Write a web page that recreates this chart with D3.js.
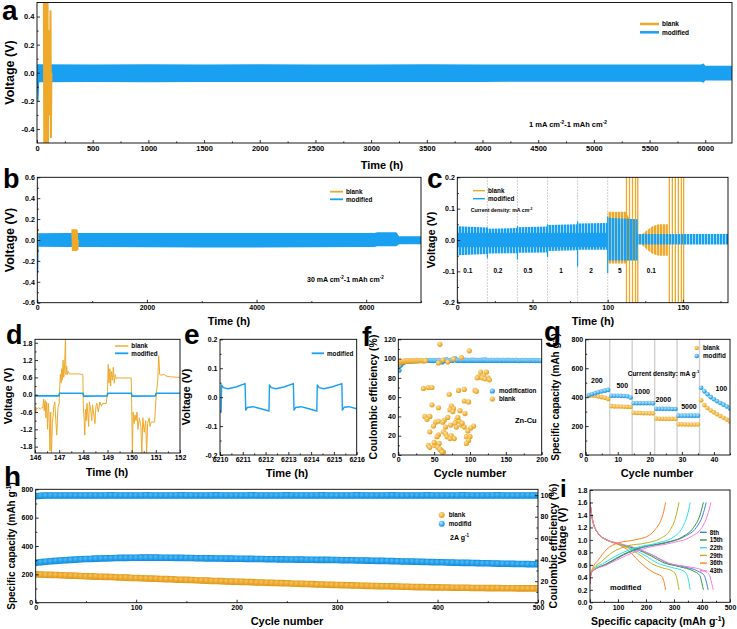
<!DOCTYPE html>
<html>
<head>
<meta charset="utf-8">
<script src="https://cdn.jsdelivr.net/npm/d3@7"></script>
<style>
  body { margin: 0; background: #fff; }
  text { font-family: 'Liberation Sans', Arial, sans-serif; font-weight: bold; }
</style>
</head>
<body>
<script>
// ---------- data ----------
// a : symmetric cycling 1 mA cm-2 (envelope of the dense band)
const aModT  = [0, 30, 500, 1000, 1500, 2000, 2500, 3000, 3500, 4000, 4500, 5000, 5500, 5960, 5985, 6000, 6240]
const aModHi = [0.06, 0.06, 0.058, 0.06, 0.059, 0.06, 0.058, 0.059, 0.06, 0.058, 0.059, 0.058, 0.058, 0.058, 0.066, 0.05, 0.05]
const aModLo = [-0.07, -0.068, -0.066, -0.068, -0.066, -0.065, -0.066, -0.065, -0.066, -0.065, -0.064, -0.064, -0.064, -0.064, -0.072, -0.056, -0.056]
const aModSpT = [2, 9, 16]
const aModSpV = [0, -0.2, 0]
const aBlankT = [58, 62, 66, 70, 74, 78, 82, 86, 90, 94, 98, 102, 104, 109, 113, 117, 121, 125, 129, 133]
const aBlankV = [0.6, -0.6, 0.6, -0.6, 0.6, -0.6, 0.6, -0.6, 0.6, -0.6, 0.6, -0.6, 0, 0.3, -0.3, 0.44, -0.46, 0.44, -0.46, 0]

// b : 30 mA cm-2
const bModT  = [0, 20, 500, 1000, 2000, 3000, 4000, 5000, 6000, 6150, 6200, 6550, 6600, 7000]
const bModHi = [0.065, 0.065, 0.066, 0.067, 0.067, 0.068, 0.068, 0.067, 0.067, 0.067, 0.075, 0.075, 0.035, 0.035]
const bModLo = [-0.065, -0.065, -0.066, -0.068, -0.07, -0.072, -0.072, -0.07, -0.068, -0.068, -0.06, -0.06, -0.04, -0.04]
const bModSpT = [0, 8, 15]
const bModSpV = [0, -0.3, 0]
const bBlank1T = [0, 4, 8, 12]
const bBlank1V = [0.15, -0.12, 0.1, 0]
const bBlank2T = [630, 640, 650, 660, 670, 680, 690, 700, 710, 720, 730, 740, 750]
const bBlank2V = [0.1, -0.1, 0.1, -0.1, 0.1, -0.1, 0.1, -0.1, 0.1, -0.1, 0.09, -0.09, 0]

// c : rate test
const cModT  = [0, 19.9, 20, 39.9, 40, 59.9, 60, 79.9, 80, 99.9, 100, 119.9, 120, 180]
const cModHi = [0.044, 0.04, 0.036, 0.038, 0.041, 0.043, 0.048, 0.05, 0.053, 0.054, 0.071, 0.066, 0.019, 0.019]
const cModLo = [-0.049, -0.045, -0.043, -0.042, -0.041, -0.04, -0.035, -0.033, -0.031, -0.031, -0.065, -0.065, -0.014, -0.014]
const cModSpT  = [20, 40, 60, 80, 100]
const cModSpHi = [0.04, 0.045, 0.05, 0.06, 0.075]
const cModSpLo = [-0.058, -0.062, -0.055, -0.085, -0.105]
const cBlankT  = [0, 99.9, 100, 112, 120, 122, 126, 130, 134, 140]
const cBlankHi = [0.025, 0.025, 0.09, 0.09, 0.015, 0.015, 0.03, 0.045, 0.05, 0.05]
const cBlankLo = [-0.025, -0.025, -0.075, -0.075, -0.012, -0.012, -0.03, -0.045, -0.05, -0.05]
const cBigSpT = [112.5, 114.5, 116.5, 118.5, 120, 141, 143, 145, 147, 149, 150.5]
const cStageT = [20, 40, 60, 80, 100]
const cRateLbl = ['0.1', '0.2', '0.5', '1', '2', '5', '0.1']
const cRateAt  = [7, 27, 47, 69, 89, 108, 129]

// d : blank vs modified, 146-152 h
const dBlankT = [146.00, 146.03, 146.06, 146.10, 146.15, 146.22, 146.28, 146.32, 146.36, 146.38, 146.42, 146.45, 146.48, 146.52, 146.55, 146.58, 146.62, 146.65, 146.68, 146.72, 146.78, 146.82, 146.86, 146.90, 146.95, 147.00, 147.02, 147.05, 147.08, 147.10, 147.13, 147.16, 147.19, 147.22, 147.26, 147.28, 147.31, 147.34, 147.38, 147.42, 147.60, 147.80, 147.98, 148.00, 148.03, 148.06, 148.09, 148.12, 148.15, 148.18, 148.22, 148.25, 148.30, 148.35, 148.38, 148.42, 148.48, 148.52, 148.56, 148.62, 148.68, 148.75, 148.80, 148.95, 149.00, 149.03, 149.06, 149.10, 149.13, 149.16, 149.20, 149.24, 149.28, 149.32, 149.36, 149.40, 149.98, 150.00, 150.03, 150.06, 150.10, 150.14, 150.18, 150.22, 150.26, 150.32, 150.38, 150.42, 150.46, 150.52, 150.58, 150.62, 150.66, 150.72, 150.76, 150.80, 150.95, 151.00, 151.04, 151.08, 151.12, 151.16, 151.22, 151.35, 151.40, 151.60, 152.00]
const dBlankV = [-0.40, -0.62, -0.45, -0.48, -0.45, -0.50, -0.45, -0.46, -0.15, -0.55, -0.20, -0.80, -0.25, -1.20, -0.30, -0.65, -1.95, -0.60, -2.05, -1.00, -0.40, -0.25, -0.90, -1.40, -0.45, -0.30, 0.20, 0.70, 0.40, 0.90, 0.50, 1.20, 0.60, 0.90, 1.95, 0.70, 1.00, 0.70, 0.80, 0.72, 0.72, 0.72, 0.70, -0.40, -0.80, -1.40, -0.50, -0.90, -0.30, -0.60, -1.10, -0.25, -0.50, -0.90, -0.35, -0.60, -1.00, -0.40, -0.30, -0.60, -0.25, -0.40, -0.30, -0.30, 0.10, 1.05, 0.40, 0.90, 0.30, 0.80, 0.50, 0.95, 0.40, 0.70, 0.55, 0.58, 0.58, -0.30, -2.05, -0.60, -1.00, -0.70, -0.90, -0.60, -1.20, -0.80, -1.10, -2.05, -0.80, -1.30, -0.90, -2.05, -1.00, -0.80, -1.10, -0.95, -0.95, -0.20, 0.20, 0.50, 1.35, 0.70, 0.68, 0.70, 0.65, 0.62, 0.60]
const dModT = [146, 146.99, 147.01, 147.99, 148.01, 148.99, 149.01, 149.99, 150.01, 150.99, 151.01, 152]
const dModV = [-0.04, -0.04, 0.05, 0.05, -0.05, -0.04, 0.05, 0.05, -0.05, -0.04, 0.05, 0.05]

// e : modified, 6210-6216 h
const eModT = [6210.00, 6210.05, 6210.07, 6210.15, 6210.35, 6210.7, 6211.1, 6211.13, 6211.2, 6211.45, 6211.8, 6212.15, 6212.17, 6212.25, 6212.45, 6212.8, 6213.22, 6213.25, 6213.32, 6213.55, 6213.9, 6214.25, 6214.27, 6214.35, 6214.55, 6214.9, 6215.35, 6215.37, 6215.45, 6215.65, 6216]
const eModV = [-0.045, -0.048, 0.042, 0.033, 0.029, 0.035, 0.047, -0.045, -0.036, -0.033, -0.04, -0.048, 0.042, 0.033, 0.029, 0.035, 0.047, -0.045, -0.036, -0.033, -0.04, -0.048, 0.042, 0.033, 0.029, 0.035, 0.047, -0.045, -0.035, -0.033, -0.04]

// f : Zn-Cu coulombic efficiency
const fModV = [88, 93, 95.2, 96.3, 96.8, 97.2, 97.4, 97.5, 97.6, 97.7,
  97.8, 97.8, 97.9, 97.9, 98, 98, 98, 97.9, 98, 98.1,
  98, 98, 98.1, 98, 97.9, 98, 98, 98.1, 98.2, 98,
  96.5, 98, 98.5, 99, 98.2, 98, 98.1, 98, 99.5, 100,
  98.4, 98, 98.1, 98.2, 98, 98.1, 98.3, 98.2, 98.1, 98,
  98.2, 98.3, 98.1, 98.2, 98.1, 98, 98.2, 98.1, 98.3, 98.2,
  98.6, 98.2, 98.1, 98, 98.2, 98.1, 98.2, 98, 98.1, 98.2,
  98.1, 98, 98.2, 98.1, 98, 98.1, 98.2, 98.1, 98, 98.1,
  98, 98.1, 98.2, 98, 97.9, 98, 98.1, 98, 98.1, 98,
  98, 97.9, 98, 98.1, 98, 97.9, 98, 98, 97.9, 98]
const fModC = fModV.map((_, i) => 1 + 2 * i)   // every second cycle
const fBlankEarly = [94, 95.5, 96, 96.5, 96.8, 97, 97.2, 97, 97.3, 97.5, 97.2, 97.6, 97.4, 97.8, 97.5, 97.7, 97.9, 97.6, 98, 97.8, 97.7, 98, 97.9, 97.6, 98.1, 97.8, 97.9, 98, 97.7, 98, 97.9, 98.1, 97.8, 98, 97.9, 97.7, 98, 97.8]
const fScatC = [58, 99, 88, 115, 123, 119, 112, 125, 117, 121, 127, 110, 107, 109, 35, 42, 47, 71, 84, 92, 92, 98, 47, 56, 74, 77, 72, 86, 93, 37, 44, 40, 52, 64, 56, 69, 81, 85, 79, 88, 73, 105, 101, 49, 66, 81, 92, 44, 56, 54, 63, 66, 68, 74, 78, 72, 95, 100, 98, 95, 42, 44, 51, 57, 55, 60, 63, 58, 50, 61, 83, 76, 62, 89, 97, 56, 62, 69, 77]
const fScatV = [114.8, 108, 101, 86, 86, 82, 81, 80, 80, 79, 78, 80, 67, 66, 69, 70, 70, 63, 67, 68, 56, 55, 52, 49, 51, 48, 47, 46, 43, 40, 40, 37, 34, 36, 35, 39, 36, 35, 33, 31, 31, 30, 28, 30, 29, 29, 29, 24, 21, 19, 24, 22, 19, 20, 17, 17, 19, 19, 15, 12, 10, 8, 10, 12, 8, 5, 3, 6, 13, 3, 39, 45, 34, 33, 25, 95.5, 98.5, 96.5, 99.5]

// g : rate capability
const gBlank = [408, 412, 410, 405, 400, 395, 388, 338, 336, 335, 335, 334, 333, 332, 292, 290, 290, 289, 289, 288, 288, 252, 251, 251, 250, 250, 250, 250, 212, 212, 211, 211, 211, 211, 211, 378, 345, 325, 308, 295, 282, 270, 258, 245, 232]
const gMod   = [415, 422, 428, 435, 440, 445, 450, 410, 410, 410, 409, 408, 406, 398, 358, 358, 358, 358, 358, 358, 357, 320, 320, 319, 319, 319, 318, 318, 272, 272, 272, 272, 272, 272, 272, 465, 440, 420, 400, 385, 372, 360, 348, 335, 322]
const gSep = [7.5, 14.5, 21.5, 28.5, 35.5]
const gRateLbl = ['200', '500', '1000', '2000', '5000', '100']
const gRateX   = [3.5, 11.4, 17.6, 24.2, 32.2, 42.3]
const gRateYpx = [382.5, 387.5, 394, 402, 409, 391]

// h : long cycling at 2 A g-1 (every 5th cycle)
const hCyc = d3.range(0, 501, 5)
const hModCap = [282, 286, 289, 292, 295, 298, 300, 302, 304, 306, 308, 309, 311, 312, 313, 314, 315, 316, 316, 317,
  317, 318, 318, 318, 318, 317, 317, 317, 316, 316, 315, 315, 314, 314, 313, 313, 312, 312, 311, 311,
  310, 310, 309, 309, 308, 308, 307, 307, 306, 306, 305, 305, 304, 304, 303, 303, 302, 302, 302, 301,
  301, 300, 300, 299, 298, 298, 297, 296, 295, 295, 294, 293, 292, 291, 291, 290, 289, 288, 287, 286,
  285, 285, 284, 283, 282, 281, 281, 280, 279, 278, 278, 277, 276, 275, 275, 274, 273, 273, 272, 271, 271]
const hBlankCap = [200, 199, 197, 196, 195, 194, 192, 191, 190, 188, 187, 186, 184, 183, 182, 181, 179, 178, 177, 175,
  174, 173, 171, 170, 169, 167, 166, 165, 163, 162, 161, 160, 158, 157, 156, 154, 153, 152, 150, 149,
  148, 147, 146, 145, 143, 142, 141, 140, 139, 138, 137, 135, 134, 133, 132, 131, 129, 128, 127, 126,
  125, 124, 123, 122, 121, 120, 119, 118, 117, 116, 116, 115, 114, 113, 112, 111, 110, 110, 109, 108,
  108, 107, 107, 106, 106, 105, 105, 104, 104, 104, 103, 103, 103, 102, 102, 102, 101, 101, 101, 101, 101]
const hModCe = [99.0, 99.5, 99.7, 99.7, 99.8, 99.7, 99.8, 99.8, 99.7, 99.8, 99.8, 99.8, 99.7, 99.8, 99.8, 99.9, 99.8, 99.8, 99.7, 99.8,
  99.8, 99.8, 99.9, 99.8, 99.8, 99.7, 99.8, 99.8, 99.8, 99.9, 99.8, 99.8, 99.7, 99.8, 99.8, 99.8, 99.9, 99.8, 99.8, 99.7,
  99.8, 99.8, 99.8, 99.9, 99.8, 99.8, 99.7, 99.8, 99.8, 99.8, 99.9, 99.8, 99.8, 99.7, 99.8, 99.8, 99.8, 99.9, 99.8, 99.8,
  99.7, 99.8, 99.8, 99.8, 99.9, 99.8, 99.8, 99.7, 99.8, 99.8, 99.8, 99.9, 99.8, 99.8, 99.7, 99.8, 99.8, 99.8, 99.9, 99.8,
  99.8, 99.7, 99.8, 99.8, 99.8, 99.9, 99.8, 99.8, 99.7, 99.8, 99.8, 99.8, 99.9, 99.8, 99.8, 99.7, 99.8, 99.8, 99.8, 99.8, 99.8]

// i : charge / discharge profiles (capacity, voltage)
const iCycles = ['8th', '15th', '22th', '29th', '36th', '43th']
const iDis = [
  [[0, 1.6], [10, 1.3], [30, 1.1], [60, 1.0], [100, 0.94], [165, 0.86], [230, 0.74], [270, 0.64], [335, 0.57], [385, 0.5], [408, 0.43], [417, 0.3], [422, 0.2]],
  [[0, 1.6], [10, 1.3], [30, 1.1], [60, 1.0], [100, 0.94], [160, 0.86], [220, 0.74], [260, 0.64], [320, 0.57], [370, 0.5], [392, 0.43], [400, 0.3], [405, 0.2]],
  [[0, 1.6], [10, 1.3], [30, 1.1], [60, 1.0], [100, 0.94], [150, 0.86], [200, 0.74], [240, 0.63], [290, 0.56], [335, 0.5], [348, 0.42], [354, 0.3], [358, 0.2]],
  [[0, 1.6], [10, 1.3], [30, 1.1], [60, 1.0], [100, 0.93], [150, 0.84], [190, 0.72], [220, 0.62], [260, 0.55], [295, 0.5], [308, 0.42], [314, 0.3], [318, 0.2]],
  [[0, 1.6], [10, 1.3], [30, 1.1], [60, 1.0], [100, 0.93], [140, 0.82], [170, 0.68], [200, 0.56], [230, 0.47], [255, 0.42], [263, 0.35], [268, 0.25], [270, 0.2]],
  [[0, 1.6], [10, 1.3], [30, 1.1], [60, 1.0], [100, 0.95], [170, 0.86], [240, 0.72], [280, 0.63], [350, 0.57], [400, 0.52], [425, 0.45], [435, 0.3], [440, 0.2]]
]
const iChg = [
  [[0, 0.3], [3, 0.45], [10, 0.5], [60, 0.61], [120, 0.76], [190, 0.88], [270, 0.95], [340, 1.06], [380, 1.2], [403, 1.4], [415, 1.6]],
  [[0, 0.3], [3, 0.45], [10, 0.5], [60, 0.62], [120, 0.77], [180, 0.88], [260, 0.95], [330, 1.05], [370, 1.2], [393, 1.4], [405, 1.6]],
  [[0, 0.3], [3, 0.45], [10, 0.52], [50, 0.63], [100, 0.76], [160, 0.87], [240, 0.95], [300, 1.05], [330, 1.2], [348, 1.4], [358, 1.6]],
  [[0, 0.3], [3, 0.45], [10, 0.52], [40, 0.65], [80, 0.8], [130, 0.9], [200, 0.95], [250, 1.02], [285, 1.15], [305, 1.35], [318, 1.6]],
  [[0, 0.3], [3, 0.45], [10, 0.55], [30, 0.68], [60, 0.85], [100, 0.95], [160, 1.0], [210, 1.07], [235, 1.18], [252, 1.3], [263, 1.45], [270, 1.6]],
  [[0, 0.3], [3, 0.45], [10, 0.5], [60, 0.6], [130, 0.75], [200, 0.87], [290, 0.95], [360, 1.05], [400, 1.2], [420, 1.4], [432, 1.6]]
]
const iColors = ['#3f7fe0', '#2f9a3c', '#2ee0e8', '#b9b21e', '#ff7f1f', '#ff7ad6']

// ---------- setup ----------
const OR = '#EEA82A'
const BL = '#19A0F0'
const svg = d3.select('body').append('svg').attr('width', 737).attr('height', 629)
const defs = svg.append('defs')
let clipN = 0

function grad(id, c0, c1) {
  const g = defs.append('radialGradient').attr('id', id).attr('cx', '38%').attr('cy', '35%').attr('r', '65%')
  g.append('stop').attr('offset', '0%').attr('stop-color', c0)
  g.append('stop').attr('offset', '100%').attr('stop-color', c1)
}
grad('gOr', '#FFE2A0', '#E59C18')
grad('gBl', '#B8E6FF', '#0E90E2')
grad('gOr2', '#F6C25A', '#E39B1C')
grad('gBl2', '#4DBBF7', '#1590E0')

function stripes(id, color) {
  const p = defs.append('pattern').attr('id', id).attr('width', 3).attr('height', 20).attr('patternUnits', 'userSpaceOnUse')
  p.append('rect').attr('width', 2.4).attr('height', 20).attr('fill', color)
}
stripes('stBl', BL)
stripes('stOr', OR)

function panel(o) {
  const x = d3.scaleLinear().domain(o.xd).range([o.l, o.r])
  const y = d3.scaleLinear().domain(o.yd).range([o.b, o.t])
  const id = 'cp' + (clipN++)
  defs.append('clipPath').attr('id', id).append('rect')
    .attr('x', o.l).attr('y', o.t).attr('width', o.r - o.l).attr('height', o.b - o.t)
  const g = svg.append('g')
  const plot = g.append('g').attr('clip-path', `url(#${id})`)
  return { x, y, g, plot, o }
}

function styleAxis(sel, fs) {
  sel.attr('font-family', null).attr('font-size', fs).attr('font-weight', 'bold')
  sel.select('.domain').remove()
  sel.selectAll('.tick line').attr('stroke-width', 0.8)
}

function axes(p, o) {
  const { x, y, g } = p
  const P = p.o
  const fs = o.fs || 7
  styleAxis(g.append('g').attr('transform', `translate(0,${P.b})`)
    .call(d3.axisBottom(x).tickValues(o.xt).tickSize(-3).tickPadding(2.5).tickFormat(o.xf || (d => d))), fs)
  if (o.xm) styleAxis(g.append('g').attr('transform', `translate(0,${P.b})`)
    .call(d3.axisBottom(x).tickValues(o.xm).tickSize(-1.6).tickFormat('')), fs)
  styleAxis(g.append('g').attr('transform', `translate(${P.l},0)`)
    .call(d3.axisLeft(y).tickValues(o.yt).tickSize(-3).tickPadding(2.5).tickFormat(o.yf || (d => d))), fs)
  if (o.ym) styleAxis(g.append('g').attr('transform', `translate(${P.l},0)`)
    .call(d3.axisLeft(y).tickValues(o.ym).tickSize(-1.6).tickFormat('')), fs)
  g.append('rect').attr('x', P.l).attr('y', P.t).attr('width', P.r - P.l).attr('height', P.b - P.t)
    .attr('fill', 'none').attr('stroke', '#000').attr('stroke-width', 0.9)
}

// text with ^superscript^ parts
function txt(x, y, s, size, anchor, rot) {
  const t = svg.append('text').attr('x', x).attr('y', y).attr('font-size', size).attr('text-anchor', anchor || 'start')
  if (rot) t.attr('transform', `rotate(-90,${x},${y})`)
  let up = false
  s.split('^').forEach((part, i) => {
    if (!part) return
    const sp = t.append('tspan').text(part)
    if (i % 2) { sp.attr('font-size', size * 0.65).attr('dy', -size * 0.4); up = true }
    else if (up) { sp.attr('dy', size * 0.4); up = false }
  })
  return t
}

function band(p, T, HI, LO, fill) {
  p.plot.append('path').datum(T.map((t, i) => [t, HI[i], LO[i]]))
    .attr('d', d3.area().x(d => p.x(d[0])).y0(d => p.y(d[2])).y1(d => p.y(d[1])))
    .attr('fill', fill)
}
function line(p, X, Y, color, w, curve, yS) {
  const ys = yS || p.y
  return p.plot.append('path').datum(X.map((t, i) => [t, Y[i]]))
    .attr('d', d3.line().x(d => p.x(d[0])).y(d => ys(d[1])).curve(curve || d3.curveLinear))
    .attr('fill', 'none').attr('stroke', color).attr('stroke-width', w).attr('stroke-linejoin', 'round')
}
function dots(p, X, Y, fill, r, yS) {
  const ys = yS || p.y
  p.plot.append('g').selectAll('circle').data(X.map((t, i) => [t, Y[i]])).join('circle')
    .attr('cx', d => p.x(d[0])).attr('cy', d => ys(d[1])).attr('r', r).attr('fill', fill)
}
function legLine(x1, x2, y, color, label, fs, w) {
  svg.append('line').attr('x1', x1).attr('x2', x2).attr('y1', y).attr('y2', y).attr('stroke', color).attr('stroke-width', w || 1.8)
  txt(x2 + 3, y + fs * 0.35, label, fs)
}
function legDot(cx, y, fill, label, fs, r) {
  svg.append('circle').attr('cx', cx).attr('cy', y).attr('r', r).attr('fill', fill)
  txt(cx + r + 4, y + fs * 0.35, label, fs)
}
const f1 = d => d.toFixed(1)

// ---------- a ----------
const pa = panel({ l: 37, r: 732, t: 2.5, b: 143, xd: [0, 6240], yd: [-0.5, 0.5] })
band(pa, aModT, aModHi, aModLo, BL)
line(pa, aModSpT, aModSpV, BL, 1.2)
line(pa, aBlankT, aBlankV, OR, 1.2)
axes(pa, { xt: d3.range(0, 6001, 500), xm: d3.range(250, 6240, 500), yt: [-0.4, -0.2, 0, 0.2, 0.4], ym: [-0.3, -0.1, 0.1, 0.3], yf: f1, fs: 7.5 })
txt(2, 20, 'a', 28)
txt(14, 72.5, 'Voltage (V)', 12.5, 'middle', true)
txt(382, 169, 'Time (h)', 11, 'middle')
legLine(640, 659, 24, OR, 'blank', 6.5, 2.5)
legLine(640, 659, 32.3, BL, 'modified', 6.5, 2.5)
txt(529, 127, '1 mA cm^-2^-1 mAh cm^-2^', 7.5)

// ---------- b ----------
const pb = panel({ l: 37.3, r: 421, t: 177.3, b: 302.7, xd: [0, 7000], yd: [-0.6, 0.6] })
band(pb, bModT, bModHi, bModLo, BL)
line(pb, bModSpT, bModSpV, BL, 1.2)
line(pb, bBlank1T, bBlank1V, OR, 1.1)
line(pb, bBlank2T, bBlank2V, OR, 1.1)
axes(pb, { xt: [0, 2000, 4000, 6000], xm: [1000, 3000, 5000, 7000], yt: [-0.6, -0.4, -0.2, 0, 0.2, 0.4, 0.6], ym: [-0.5, -0.3, -0.1, 0.1, 0.3, 0.5], yf: f1, fs: 7 })
txt(3, 188, 'b', 27)
txt(14, 240, 'Voltage (V)', 12.5, 'middle', true)
txt(229, 325, 'Time (h)', 11, 'middle')
legLine(330, 343, 191.7, OR, 'blank', 6.3, 1.8)
legLine(330, 343, 199.3, BL, 'modified', 6.3, 1.8)
txt(307, 282, '30 mA cm^-2^-1 mAh cm^-2^', 7)

// ---------- c ----------
const pc = panel({ l: 457.3, r: 728, t: 177.3, b: 302.7, xd: [0, 180], yd: [-0.2, 0.2] })
cStageT.forEach(t => pc.plot.append('line').attr('x1', pc.x(t)).attr('x2', pc.x(t)).attr('y1', pc.o.t).attr('y2', pc.o.b)
  .attr('stroke', '#999').attr('stroke-width', 0.6).attr('stroke-dasharray', '1.5,1.5'))
band(pc, cBlankT, cBlankHi, cBlankLo, 'url(#stOr)')
cBigSpT.forEach(t => pc.plot.append('line').attr('x1', pc.x(t)).attr('x2', pc.x(t)).attr('y1', pc.y(-0.25)).attr('y2', pc.y(0.25))
  .attr('stroke', OR).attr('stroke-width', 1.3))
band(pc, cModT.slice(0, 10), cModHi.slice(0, 10), cModHi.slice(0, 10).map(() => 0.022), 'url(#stBl)')
band(pc, cModT.slice(0, 10), cModLo.slice(0, 10).map(() => -0.022), cModLo.slice(0, 10), 'url(#stBl)')
band(pc, cModT.slice(10), cModHi.slice(10), cModLo.slice(10), 'url(#stBl)')
band(pc, cModT.slice(0, 10), cModT.slice(0, 10).map(() => 0.022), cModT.slice(0, 10).map(() => -0.022), BL)
cModSpT.forEach((t, i) => pc.plot.append('line').attr('x1', pc.x(t)).attr('x2', pc.x(t)).attr('y1', pc.y(cModSpLo[i])).attr('y2', pc.y(cModSpHi[i]))
  .attr('stroke', BL).attr('stroke-width', 1.2))
axes(pc, { xt: [0, 50, 100, 150], xm: [25, 75, 125, 175], yt: [-0.2, -0.1, 0, 0.1, 0.2], ym: [-0.15, -0.05, 0.05, 0.15], yf: f1, fs: 7 })
cRateLbl.forEach((s, i) => txt(pc.x(cRateAt[i]), pc.y(-0.097) + 2.5, s, 6.5, 'middle'))
txt(427, 188, 'c', 28)
txt(435, 240, 'Voltage (V)', 11, 'middle', true)
txt(593, 325, 'Time (h)', 11, 'middle')
legLine(473, 485, 190.7, OR, 'blank', 6.3, 1.4)
legLine(473, 485, 198.7, BL, 'modified', 6.3, 1.4)
txt(470.7, 212, 'Current density: mA cm^-2^', 5.2)

// ---------- d ----------
const pd = panel({ l: 35, r: 180, t: 339.3, b: 453, xd: [146, 152], yd: [-2.02, 1.92] })
line(pd, dBlankT, dBlankV, OR, 1)
line(pd, dModT, dModV, BL, 1.6)
axes(pd, { xt: [146, 147, 148, 149, 150, 151, 152], xm: [146.5, 147.5, 148.5, 149.5, 150.5, 151.5], yt: [-1.8, -1.2, -0.6, 0, 0.6, 1.2, 1.8], ym: [-1.5, -0.9, -0.3, 0.3, 0.9, 1.5], yf: f1, fs: 7 })
txt(6, 344, 'd', 27)
txt(12, 396, 'Voltage (V)', 11, 'middle', true)
txt(107, 476, 'Time (h)', 11, 'middle')
legLine(115, 128.3, 346, OR, 'blank', 6.3, 1.4)
legLine(115, 128.3, 353.3, BL, 'modified', 6.3, 1.8)

// ---------- e ----------
const pe = panel({ l: 220, r: 356.7, t: 339.3, b: 455, xd: [6210, 6216], yd: [-0.2, 0.2] })
line(pe, eModT, eModV, BL, 1.4)
axes(pe, { xt: d3.range(6210, 6217), xm: d3.range(6210.5, 6216, 1), yt: [-0.2, -0.1, 0, 0.1, 0.2], ym: [-0.15, -0.05, 0.05, 0.15], yf: f1, fs: 7 })
txt(184, 344, 'e', 28)
txt(190, 397, 'Voltage (V)', 11, 'middle', true)
txt(287, 477, 'Time (h)', 11, 'middle')
legLine(311.7, 324, 353.3, BL, 'modified', 6.3, 1.8)

// ---------- f ----------
const pf = panel({ l: 398.3, r: 541.7, t: 339.3, b: 455, xd: [0, 200], yd: [0, 120] })
dots(pf, fModC, fModV, 'url(#gBl)', 2.6)
dots(pf, fBlankEarly.map((_, i) => i + 1), fBlankEarly, 'url(#gOr)', 2.6)
dots(pf, fScatC, fScatV, 'url(#gOr)', 2.6)
axes(pf, { xt: [0, 50, 100, 150, 200], xm: [25, 75, 125, 175], yt: d3.range(0, 121, 20), ym: d3.range(10, 120, 20), fs: 7 })
txt(362, 346, 'f', 28)
txt(377, 397, 'Coulombic efficiency (%)', 10.5, 'middle', true)
txt(470, 477, 'Cycle number', 11, 'middle')
legDot(492.3, 391, 'url(#gBl)', 'modification', 6.3, 2.6)
legDot(492.3, 399, 'url(#gOr)', 'blank', 6.3, 2.6)
txt(515, 423, 'Zn-Cu', 7.5)

// ---------- g ----------
const pg = panel({ l: 585.7, r: 730, t: 339.3, b: 455, xd: [0, 45], yd: [0, 800] })
gSep.forEach(c => pg.plot.append('line').attr('x1', pg.x(c)).attr('x2', pg.x(c)).attr('y1', pg.o.t).attr('y2', pg.o.b)
  .attr('stroke', '#d0d0d0').attr('stroke-width', 1.4))
dots(pg, gBlank.map((_, i) => i + 1), gBlank, 'url(#gOr)', 2.3)
dots(pg, gMod.map((_, i) => i + 1), gMod, 'url(#gBl)', 2.3)
axes(pg, { xt: [0, 10, 20, 30, 40], xm: [5, 15, 25, 35, 45], yt: [0, 200, 400, 600, 800], ym: [100, 300, 500, 700], fs: 7 })
gRateLbl.forEach((s, i) => txt(pg.x(gRateX[i]), gRateYpx[i], s, 7, 'middle'))
txt(627.7, 376, 'Current density: mA g^-1^', 6.5)
txt(544, 341, 'g', 28)
txt(559, 397, 'Specific capacity (mAh g^-1^)', 10, 'middle', true)
txt(657, 477, 'Cycle number', 11, 'middle')
legDot(696.7, 348, 'url(#gOr)', 'blank', 6.3, 2.3)
legDot(696.7, 356, 'url(#gBl)', 'modifid', 6.3, 2.3)

// ---------- h ----------
const ph = panel({ l: 35.7, r: 538, t: 489.3, b: 602.7, xd: [0, 500], yd: [0, 800] })
const hR = d3.scaleLinear().domain([0, 105.5]).range([602.7, 489.3])
// thick underlay so the overlapping markers read as one band
line(ph, hCyc, hModCe, '#1590E0', 6.6, d3.curveLinear, hR)
line(ph, hCyc, hModCap, '#1590E0', 6.6)
line(ph, hCyc, hBlankCap, '#E39B1C', 6.6)
dots(ph, hCyc, hModCe, 'url(#gBl2)', 3, hR)
dots(ph, hCyc, hModCap, 'url(#gBl2)', 3)
dots(ph, hCyc, hBlankCap, 'url(#gOr2)', 3)
axes(ph, { xt: d3.range(0, 501, 100), xm: d3.range(50, 500, 100), yt: d3.range(0, 801, 200), ym: d3.range(100, 800, 200), fs: 7 })
styleAxis(ph.g.append('g').attr('transform', `translate(${ph.o.r},0)`)
  .call(d3.axisRight(hR).tickValues(d3.range(0, 101, 20)).tickSize(-3).tickPadding(2.5)), 7)
styleAxis(ph.g.append('g').attr('transform', `translate(${ph.o.r},0)`)
  .call(d3.axisRight(hR).tickValues(d3.range(10, 101, 20)).tickSize(-1.6).tickFormat('')), 7)
txt(4, 486, 'h', 28)
txt(15, 546, 'Specific capacity (mAh g^-1^)', 10, 'middle', true)
txt(287, 625, 'Cycle number', 11, 'middle')
txt(557, 546, 'Coulombic efficiency (%)', 10.5, 'middle', true)
legDot(441.7, 515, 'url(#gOr)', 'blank', 6.3, 3)
legDot(441.7, 523.7, 'url(#gBl)', 'modifid', 6.3, 3)
txt(450, 539.5, '2A g^-1^', 7)

// ---------- i ----------
const pi = panel({ l: 590, r: 730, t: 490, b: 602.3, xd: [0, 500], yd: [0, 1.8] })
iDis.forEach((c, k) => line(pi, c.map(d => d[0]), c.map(d => d[1]), iColors[k], 1, d3.curveMonotoneX))
iChg.forEach((c, k) => line(pi, c.map(d => d[0]), c.map(d => d[1]), iColors[k], 1, d3.curveMonotoneX))
axes(pi, { xt: d3.range(0, 501, 100), xm: d3.range(50, 500, 100), yt: d3.range(0, 1.81, 0.2), yf: f1, fs: 7 })
txt(560, 497, 'i', 24)
txt(566, 536, 'Voltage (V)', 11, 'middle', true)
txt(658, 625, 'Specific capacity (mAh g^-1^)', 10.5, 'middle')
iCycles.forEach((s, k) => legLine(700, 706.7, 532.3 + 7.7 * k, iColors[k], s, 6.3, 1.4))
txt(610, 590, 'modified', 7.5)
</script>
</body>
</html>
